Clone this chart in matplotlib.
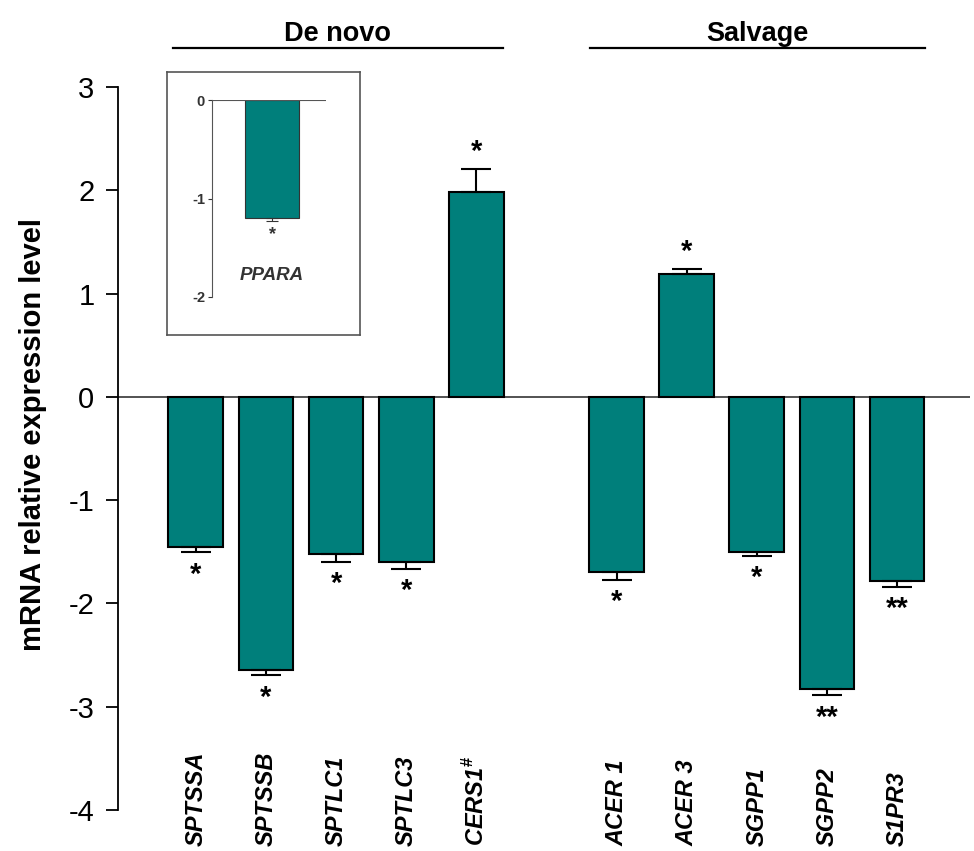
import numpy as np
import matplotlib.pyplot as plt

plt.rcParams['font.family'] = ['Liberation Sans', 'DejaVu Sans']
plt.rcParams['axes.unicode_minus'] = False
plt.rcParams['mathtext.fontset'] = 'custom'
plt.rcParams['mathtext.bf'] = 'Liberation Sans:bold'

# gene panel
genes = ["SPTSSA", "SPTSSB", "SPTLC1", "SPTLC3", "CERS1$^{\\mathbf{\\#}}$",
         "ACER 1", "ACER 3", "SGPP1", "SGPP2", "S1PR3"]
pos = [0, 1, 2, 3, 4, 6, 7, 8, 9, 10]
expr = [-1.455, -2.64, -1.52, -1.60, 1.98, -1.70, 1.19, -1.50, -2.83, -1.78]
sem = [0.05, 0.055, 0.075, 0.065, 0.225, 0.07, 0.05, 0.04, 0.06, 0.06]
stars = ["*", "*", "*", "*", "*", "*", "*", "*", "**", "**"]

groups = ["De novo", "Salvage"]
group_span = [(-0.33, 4.38), (5.62, 10.4)]

# inset
ppara_val = -1.2
ppara_sem = 0.03

teal = "#007f7b"

fig = plt.figure(figsize=(9.74, 8.51), dpi=100)
ax = fig.add_axes([118/974, 1 - 810/851, (970-118)/974, (810-87)/851])

ax.bar(pos, expr, width=0.78, color=teal, edgecolor="black", linewidth=1.5, zorder=2)
for p, v, e in zip(pos, expr, sem):
    ax.errorbar(p, v, yerr=[[e], [0]] if v < 0 else [[0], [e]], fmt="none",
                ecolor="black", elinewidth=1.5, capsize=11, capthick=1.5, zorder=3)
for p, v, e, s in zip(pos, expr, sem, stars):
    if v < 0:
        ax.annotate(s, (p, v - e), xytext=(0, -6), textcoords="offset points",
                    ha="center", va="top", fontsize=21, fontweight="bold")
    else:
        ax.annotate(s, (p, v + e), xytext=(0, 2), textcoords="offset points",
                    ha="center", va="bottom", fontsize=21, fontweight="bold")

ax.axhline(0, color="#444444", linewidth=1.3, zorder=1)
ax.set_xlim(-1.11, 11.04)
ax.set_ylim(-4, 3)
ax.set_yticks(np.arange(-4, 4, 1))
ax.tick_params(axis="y", labelsize=21, length=9, width=1.3, pad=8)
ax.spines["left"].set_linewidth(1.3)
for sp in ["top", "right", "bottom"]:
    ax.spines[sp].set_visible(False)
ax.set_xticks([])
ax.set_ylabel("mRNA relative expression level", fontsize=21, fontweight="bold")
ax.yaxis.set_label_coords(-0.083, 0.52)

# gene names sit inside the lower part of the plot
trans = ax.get_xaxis_transform()
for p, g in zip(pos, genes):
    ax.text(p, -0.05, g, transform=trans, rotation=90, ha="center", va="bottom",
            fontsize=17, fontweight="bold", fontstyle="italic", clip_on=False)

# group headers
for label, (a, b) in zip(groups, group_span):
    ax.plot([a, b], [3.374, 3.374], color="black", linewidth=1.6, clip_on=False)
    ax.text((a + b) / 2, 3.45, label, ha="center", va="baseline",
            fontsize=19.5, fontweight="bold")

# inset box
box = fig.add_axes([167/974, 1 - 335/851, (360-167)/974, (335-72)/851])
box.set_xticks([])
box.set_yticks([])
for sp in box.spines.values():
    sp.set_color("#555555")
    sp.set_linewidth(1.2)

ins = fig.add_axes([212/974, 1 - 297/851, (326-212)/974, (297-100)/851])
ins.bar([0], [ppara_val], width=1.05, color=teal, edgecolor="#333333", linewidth=0.8)
ins.errorbar([0], [ppara_val], yerr=[[ppara_sem], [0]], fmt="none", ecolor="#333333",
             elinewidth=0.8, capsize=4, capthick=0.8)
ins.axhline(0, color="#555555", linewidth=0.8)
ins.set_ylim(-2, 0)
ins.set_xlim(-1.16, 1.04)
ins.set_yticks([-2, -1, 0])
ins.tick_params(axis="y", labelsize=10.5, length=3, width=0.8, pad=2, colors="#333333")
for lab in ins.get_yticklabels():
    lab.set_fontweight("bold")
ins.set_xticks([])
for sp in ["top", "right", "bottom"]:
    ins.spines[sp].set_visible(False)
ins.spines["left"].set_color("#555555")
ins.spines["left"].set_linewidth(0.8)
ins.text(0, ppara_val - ppara_sem - 0.05, "*", ha="center", va="top", fontsize=13,
         fontweight="bold", color="#333333")
ins.text(0, -1.78, "PPARA", ha="center", va="center", fontsize=13.5,
         fontweight="bold", fontstyle="italic", color="#333333")

fig.savefig("out.png", dpi=100)
